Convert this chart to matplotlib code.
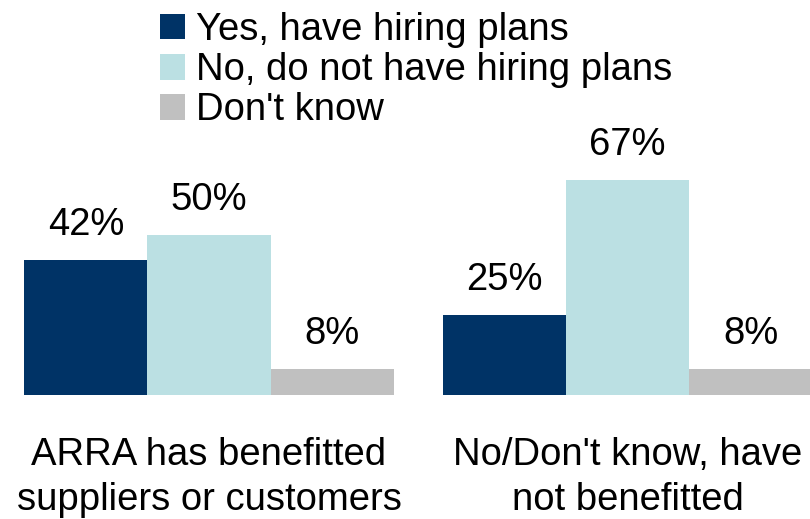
import matplotlib.pyplot as plt
from matplotlib.patches import Patch

plt.rcParams['font.family'] = ['Liberation Sans', 'DejaVu Sans']

# Survey results (percent of respondents)
groups = ["ARRA has benefitted\nsuppliers or customers",
          "No/Don't know, have\nnot benefitted"]
series = ["Yes, have hiring plans",
          "No, do not have hiring plans",
          "Don't know"]
yes_plans = [42, 25]
no_plans = [50, 67]
dont_know = [8, 8]
colors = ["#003366", "#bbe0e3", "#c0c0c0"]

values = [yes_plans, no_plans, dont_know]

fig = plt.figure(figsize=(8.1, 5.19), dpi=100)
ax = fig.add_axes([0, 124 / 519, 1, 395 / 519])

width = 0.294
x = range(len(groups))
for i, (vals, color) in enumerate(zip(values, colors)):
    xs = [g + (i - 1) * width for g in x]
    ax.bar(xs, vals, width=width, color=color, edgecolor='none')
    for xv, v in zip(xs, vals):
        ax.annotate(f'{v}%', (xv, v), xytext=(0, 18), textcoords='offset points',
                    ha='center', va='baseline', fontsize=27.5)

# group names under the bars
for g, label in zip(x, groups):
    ax.annotate(label, (g, 0), xycoords=('data', 'axes fraction'),
                xytext=(0, -30), textcoords='offset points',
                ha='center', va='top', fontsize=27.5, linespacing=1.35)

ax.set_xlim(-209 / 418.5, 601 / 418.5)
ax.set_ylim(0, 395 / 3.21)
ax.axis('off')

handles = [Patch(facecolor=c, edgecolor='none') for c in colors]
fig.legend(handles, series, loc='upper left', bbox_to_anchor=(160 / 810, 1 - 12 / 519),
           frameon=False, fontsize=27.5, borderpad=0, borderaxespad=0,
           handlelength=0.65, handleheight=0.65, handletextpad=0.3,
           labelspacing=0.11)

fig.savefig('out.png', dpi=100)
